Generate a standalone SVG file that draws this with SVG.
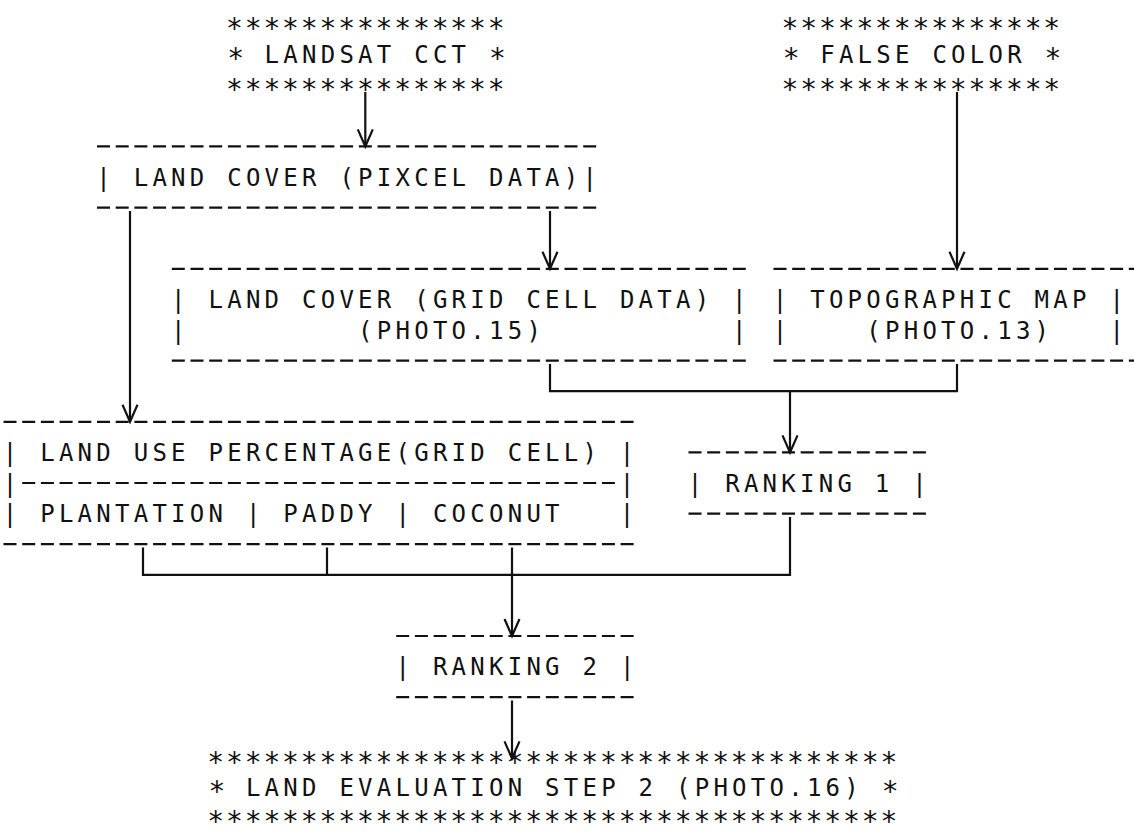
<svg xmlns="http://www.w3.org/2000/svg" width="1134" height="840" viewBox="0 0 1134 840">
<style>
.t{font-family:"DejaVu Sans Mono","Liberation Mono",monospace;font-size:24px;letter-spacing:4.25px;fill:#111;white-space:pre}
.s{font-size:28px;letter-spacing:1.84px}
.d{stroke:#111;stroke-width:2.2;stroke-dasharray:13 5.7;fill:none}
.c{stroke:#111;stroke-width:2.2;fill:none}
</style>
<defs>
<marker id="ah" viewBox="-20 -10 22 20" refX="0" refY="0" markerWidth="22" markerHeight="20" markerUnits="userSpaceOnUse" orient="auto" overflow="visible">
<path d="M-17,-7.5 L0,0 L-17,7.5" fill="none" stroke="#111" stroke-width="2.2"/>
</marker>
</defs>
<rect width="1134" height="840" fill="#fff"/>

<g id="landsat">
<text class="t s" x="226" y="37.6">***************</text>
<text class="t" x="227.2" y="63.3" xml:space="preserve"><tspan class="s" dy="4.9">*</tspan><tspan dy="-4.9"> LANDSAT CCT </tspan><tspan class="s" dy="4.9">*</tspan></text>
<text class="t s" x="226" y="98.8">***************</text>
</g>

<g id="false-color">
<text class="t s" x="781.6" y="37.6">***************</text>
<text class="t" x="782.8" y="63.3" xml:space="preserve"><tspan class="s" dy="4.9">*</tspan><tspan dy="-4.9"> FALSE COLOR </tspan><tspan class="s" dy="4.9">*</tspan></text>
<text class="t s" x="781.6" y="98.8">***************</text>
</g>

<g id="land-cover-pixel">
<line class="d" x1="97" y1="146.4" x2="596.2" y2="146.4"/>
<text class="t" x="96.3" y="185.7" xml:space="preserve">| LAND COVER (PIXCEL DATA)|</text>
<line class="d" x1="97" y1="207.6" x2="596.2" y2="207.6"/>
</g>

<g id="land-cover-grid">
<line class="d" x1="171.8" y1="268.8" x2="745.8" y2="268.8"/>
<text class="t" x="171.1" y="308.1" xml:space="preserve">| LAND COVER (GRID CELL DATA) |</text>
<text class="t" x="171.1" y="338.7" xml:space="preserve">|         (PHOTO.15)          |</text>
<line class="d" x1="171.8" y1="360.6" x2="745.8" y2="360.6"/>
</g>

<g id="topographic-map">
<line class="d" x1="773.5" y1="268.8" x2="1141.8" y2="268.8"/>
<text class="t" x="772.8" y="308.1" xml:space="preserve">| TOPOGRAPHIC MAP |</text>
<text class="t" x="772.8" y="338.7" xml:space="preserve">|    (PHOTO.13)   |</text>
<line class="d" x1="773.5" y1="360.6" x2="1141.8" y2="360.6"/>
</g>

<g id="land-use">
<line class="d" x1="3.5" y1="421.8" x2="633.6" y2="421.8"/>
<text class="t" x="2.8" y="461.1" xml:space="preserve">| LAND USE PERCENTAGE(GRID CELL) |</text>
<text class="t" x="2.8" y="491.7" xml:space="preserve">|                                |</text>
<line class="d" x1="22.2" y1="483" x2="614.9" y2="483"/>
<text class="t" x="2.8" y="522.3" xml:space="preserve">| PLANTATION | PADDY | COCONUT   |</text>
<line class="d" x1="3.5" y1="544.2" x2="633.6" y2="544.2"/>
</g>

<g id="ranking-1">
<line class="d" x1="688.5" y1="452.4" x2="925.9" y2="452.4"/>
<text class="t" x="687.8" y="491.7" xml:space="preserve">| RANKING 1 |</text>
<line class="d" x1="688.5" y1="513.6" x2="925.9" y2="513.6"/>
</g>

<g id="ranking-2">
<line class="d" x1="396.2" y1="636" x2="633.6" y2="636"/>
<text class="t" x="395.5" y="675.3" xml:space="preserve">| RANKING 2 |</text>
<line class="d" x1="396.2" y1="697.2" x2="633.6" y2="697.2"/>
</g>

<g id="land-evaluation">
<text class="t s" x="207.3" y="772">*************************************</text>
<text class="t" x="208.5" y="796.2" xml:space="preserve"><tspan class="s" dy="4.9">*</tspan><tspan dy="-4.9"> LAND EVALUATION STEP 2 (PHOTO.16) </tspan><tspan class="s" dy="4.9">*</tspan></text>
<text class="t s" x="207.3" y="830.6">*************************************</text>
</g>

<g id="connectors">
<line class="c" x1="365.3" y1="92" x2="365.3" y2="146.4" marker-end="url(#ah)"/>
<line class="c" x1="957" y1="92" x2="957" y2="268.8" marker-end="url(#ah)"/>
<line class="c" x1="550" y1="211" x2="550" y2="268.8" marker-end="url(#ah)"/>
<line class="c" x1="130" y1="211" x2="130" y2="421.8" marker-end="url(#ah)"/>
<polyline class="c" points="550,364 550,391.2 957,391.2 957,364"/>
<line class="c" x1="790" y1="391.2" x2="790" y2="452.4" marker-end="url(#ah)"/>
<polyline class="c" points="143,547.5 143,574.8 790,574.8 790,517"/>
<line class="c" x1="327" y1="547.5" x2="327" y2="574.8"/>
<line class="c" x1="512" y1="547.5" x2="512" y2="574.8"/>
<line class="c" x1="512" y1="574.8" x2="512" y2="636" marker-end="url(#ah)"/>
<line class="c" x1="512" y1="700.5" x2="512" y2="758.4" marker-end="url(#ah)"/>
</g>
</svg>
